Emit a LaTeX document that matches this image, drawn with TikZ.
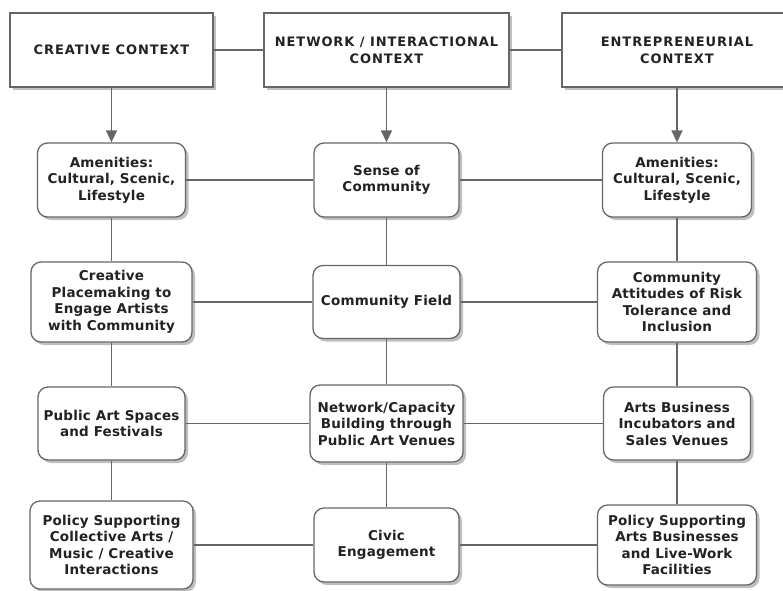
\documentclass[tikz,border=0pt]{standalone}
\usepackage{fontspec}
\setmainfont{DejaVu Sans}
\newfontfamily\headfont[LetterSpace=7]{DejaVu Sans}
\newfontfamily\boxfont[LetterSpace=1.5]{DejaVu Sans}
\usepackage{tikz}
\usetikzlibrary{shapes,arrows.meta,shadows}
\definecolor{linegray}{HTML}{666666}
\definecolor{textgray}{HTML}{222222}
\tikzstyle{context} = [draw=linegray, line width=1.3pt, fill=white, rectangle,
	align=center, text=textgray, inner sep=2pt,
	font=\fontsize{13}{17}\headfont\bfseries,
	drop shadow={shadow xshift=3pt, shadow yshift=-3pt, opacity=0.25, fill=black}]
\tikzstyle{factor} = [draw=linegray, line width=1.3pt, fill=white, rectangle,
	rounded corners=10pt, align=center, text=textgray, inner sep=2pt,
	font=\fontsize{13.5}{16.5}\boxfont\bfseries,
	drop shadow={shadow xshift=3pt, shadow yshift=-3pt, opacity=0.25, fill=black}]
\tikzstyle{link} = [draw=linegray, line width=1.4pt]
\tikzstyle{arrow} = [link, -{Triangle[width=11pt,length=12pt]}]

\begin{document}
\begin{tikzpicture}[x=1pt,y=-1pt]
				\useasboundingbox (0,0) rectangle (783,590);
				
				% contexts
				\node [context, minimum width=203, minimum height=74] (C0) at (111.5,50) {CREATIVE CONTEXT};
				\node [context, minimum width=245, minimum height=74] (N0) at (386.5,50) {NETWORK / INTERACTIONAL\\CONTEXT};
				\node [context, minimum width=230, minimum height=74] (E0) at (677,50) {ENTREPRENEURIAL\\CONTEXT};
				
				% creative column
				\node [factor, minimum width=148, minimum height=74] (C1) at (111.5,180) {Amenities:\\Cultural, Scenic,\\Lifestyle};
				\node [factor, minimum width=161, minimum height=80] (C2) at (111.5,302) {Creative\\Placemaking to\\Engage Artists\\with Community};
				\node [factor, minimum width=147, minimum height=73] (C3) at (111.5,423.5) {Public Art Spaces\\and Festivals};
				\node [factor, minimum width=163, minimum height=88] (C4) at (111.5,545) {Policy Supporting\\Collective Arts /\\Music / Creative\\Interactions};
				
				% network column
				\node [factor, minimum width=145, minimum height=74] (N1) at (386.5,180) {Sense of\\Community};
				\node [factor, minimum width=147, minimum height=73] (N2) at (386.5,302) {Community Field};
				\node [factor, minimum width=153, minimum height=77] (N3) at (386.5,423.5) {Network/Capacity\\Building through\\Public Art Venues};
				\node [factor, minimum width=145, minimum height=74] (N4) at (386.5,545) {Civic\\Engagement};
				
				% entrepreneurial column
				\node [factor, minimum width=149, minimum height=74] (E1) at (677,180) {Amenities:\\Cultural, Scenic,\\Lifestyle};
				\node [factor, minimum width=159, minimum height=80] (E2) at (677,302) {Community\\Attitudes of Risk\\Tolerance and\\Inclusion};
				\node [factor, minimum width=147, minimum height=73] (E3) at (677,423.5) {Arts Business\\Incubators and\\Sales Venues};
				\node [factor, minimum width=159, minimum height=80] (E4) at (677,545) {Policy Supporting\\Arts Businesses\\and Live-Work\\Facilities};
				
				\draw [link] (C0) -- (N0);
				\draw [link] (N0) -- (E0);
				\draw [arrow] (C0) -- (C1);
				\draw [arrow] (N0) -- (N1);
				\draw [arrow] (E0) -- (E1);
				
				\foreach \r in {1,2,3,4}{
					\draw [link] (C\r) -- (N\r);
					\draw [link] (N\r) -- (E\r);
				}
				\foreach \c in {C,N,E}{
					\draw [link] (\c1) -- (\c2);
					\draw [link] (\c2) -- (\c3);
					\draw [link] (\c3) -- (\c4);
				}
				
\end{tikzpicture}
\end{document}
